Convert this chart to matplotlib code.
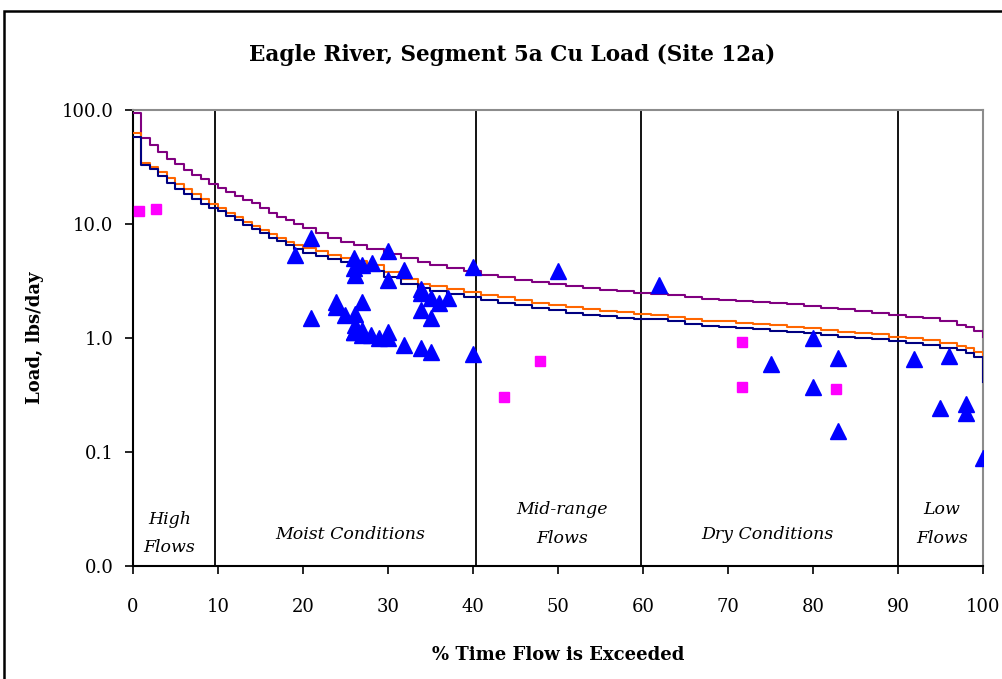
import matplotlib
matplotlib.use("Agg")
import matplotlib.pyplot as plt
from matplotlib.patches import Rectangle

# flow exceedance (%) grid shared by the three load duration curves
FLOW_PCT = [0, 1, 2, 3, 4, 5, 6, 7, 8, 9, 10, 11, 12, 13, 14, 15, 16, 17, 18, 19, 20,
            21.5, 23, 24.5, 26, 27.5, 29.5, 31.5, 33.5, 35, 37, 39, 41, 43, 45, 47, 49,
            51, 53, 55, 57, 59, 61, 63, 65, 67, 69, 71, 73, 75, 77, 79, 81, 83, 85, 87,
            89, 91, 93, 95, 97, 98, 99, 100, 100]

CURVE_PURPLE = [95, 56.4, 49.3, 43.1, 37.2, 33.6, 29.8, 26.9, 24.7, 22.4, 20.6, 19.2, 17.6,
                16.2, 15.2, 13.7, 12.6, 11.6, 10.8, 10.0, 9.3, 8.4, 7.6, 7.0, 6.5, 6.0, 5.5,
                5.0, 4.6, 4.35, 4.1, 3.85, 3.6, 3.4, 3.25, 3.1, 2.95, 2.85, 2.76, 2.66, 2.58,
                2.5, 2.42, 2.4, 2.31, 2.2, 2.14, 2.11, 2.07, 2.02, 1.97, 1.91, 1.85, 1.78,
                1.73, 1.67, 1.6, 1.54, 1.49, 1.41, 1.31, 1.25, 1.16, 1.03, 1.03]

CURVE_ORANGE = [63, 34.5, 31.8, 28.3, 25.2, 22.3, 20.1, 18.2, 16.5, 14.9, 13.7, 12.4, 11.5,
                10.5, 9.6, 8.9, 8.2, 7.6, 7.0, 6.5, 6.15, 5.75, 5.3, 5.0, 4.7, 4.4, 3.8, 3.3,
                3.0, 2.84, 2.67, 2.55, 2.39, 2.28, 2.17, 2.04, 1.96, 1.86, 1.78, 1.73, 1.69,
                1.63, 1.6, 1.54, 1.47, 1.42, 1.40, 1.36, 1.32, 1.29, 1.26, 1.22, 1.18, 1.14,
                1.11, 1.08, 1.03, 1.0, 0.96, 0.9, 0.85, 0.82, 0.76, 0.67, 0.45]

CURVE_NAVY = [57.6, 32.9, 30.2, 26.4, 22.7, 20.2, 18.2, 16.5, 14.9, 13.8, 12.9, 11.7, 10.9,
              9.8, 9.0, 8.3, 7.6, 7.1, 6.5, 6.0, 5.6, 5.25, 4.9, 4.6, 4.25, 3.85, 3.45, 3.0,
              2.72, 2.58, 2.42, 2.29, 2.14, 2.03, 1.93, 1.85, 1.77, 1.66, 1.59, 1.55, 1.51,
              1.48, 1.46, 1.4, 1.33, 1.28, 1.26, 1.23, 1.2, 1.16, 1.14, 1.11, 1.07, 1.03,
              1.01, 0.98, 0.95, 0.91, 0.86, 0.82, 0.78, 0.74, 0.68, 0.6, 0.41]

# observed loads (triangles)
OBS_X = [19.1, 20.9, 20.9, 23.9, 23.9, 24.9, 26.0, 26.0, 26.1, 26.1, 26.1, 26.0, 26.0,
         27.0, 27.0, 27.0, 27.0, 28.1, 28.0, 29.0, 30.0, 30.0, 30.0, 30.0, 31.9, 31.9,
         33.9, 33.9, 33.9, 33.9, 35.1, 35.1, 35.1, 36.0, 37.1, 40.0, 40.0, 50.0, 61.9,
         75.1, 80.0, 80.0, 82.9, 82.9, 91.9, 94.9, 96.0, 98.0, 98.0, 100.0]
OBS_Y = [5.35, 7.6, 1.49, 2.08, 1.88, 1.59, 5.0, 4.08, 3.57, 1.64, 1.30, 1.14, 1.14,
         4.36, 2.08, 1.17, 1.06, 4.52, 1.06, 0.99, 5.75, 3.23, 1.14, 0.99, 3.94, 0.87,
         2.67, 2.47, 1.76, 0.81, 2.23, 1.49, 0.76, 2.04, 2.25, 4.2, 0.73, 3.89, 2.93,
         0.59, 1.01, 0.37, 0.67, 0.153, 0.65, 0.245, 0.695, 0.262, 0.219, 0.088]

# squares
SQ_X = [0.75, 2.7, 43.6, 47.9, 71.7, 71.7, 82.7]
SQ_Y = [13.1, 13.5, 0.305, 0.63, 0.916, 0.37, 0.357]

DIVIDERS = [9.7, 40.4, 59.8, 90.0]
ZONE_X = [4.3, 25.5, 50.5, 74.6, 95.2]
ZONE_Y = [0.0193, 0.0189, 0.0233, 0.0189, 0.0233]
ZONE_LABELS = ["High\nFlows", "Moist Conditions", "Mid-range\nFlows", "Dry Conditions", "Low\nFlows"]

YTICKS = [0.01, 0.1, 1, 10, 100]
YTICK_LABELS = ["0.0", "0.1", "1.0", "10.0", "100.0"]
XTICKS = [0, 10, 20, 30, 40, 50, 60, 70, 80, 90, 100]

SERIF = "DejaVu Serif"


def main():
    fig = plt.figure(figsize=(10.03, 6.79), dpi=100)
    ax = fig.add_axes([133 / 1003, 1 - 566 / 679, 850 / 1003, 456 / 679])

    ax.plot(FLOW_PCT, CURVE_PURPLE, drawstyle="steps-post", color="#800080", lw=1.5, zorder=3)
    ax.plot(FLOW_PCT, CURVE_ORANGE, drawstyle="steps-post", color="#FF6600", lw=1.5, zorder=3)
    ax.plot(FLOW_PCT, CURVE_NAVY, drawstyle="steps-post", color="#000080", lw=1.5, zorder=3)

    for x in DIVIDERS:
        ax.axvline(x, color="black", lw=1.3, zorder=2)

    ax.plot(SQ_X, SQ_Y, ls="none", marker="s", ms=7, color="#FF00FF", zorder=4)
    ax.plot(OBS_X, OBS_Y, ls="none", marker="^", ms=11, color="#0000FF", zorder=5)

    ax.set_yscale("log")
    ax.set_ylim(0.01, 100)
    ax.set_xlim(0, 100)
    ax.set_yticks(YTICKS)
    ax.set_yticklabels(YTICK_LABELS)
    ax.minorticks_off()
    ax.set_xticks(XTICKS)
    ax.tick_params(axis="both", direction="out", length=6, width=1.2, labelsize=13)
    ax.tick_params(axis="y", pad=8)
    ax.tick_params(axis="x", pad=17)
    for lab in ax.get_xticklabels() + ax.get_yticklabels():
        lab.set_fontfamily(SERIF)

    for side in ["left", "bottom"]:
        ax.spines[side].set_color("black")
        ax.spines[side].set_linewidth(1.5)
    for side in ["top", "right"]:
        ax.spines[side].set_color("#8c8c8c")
        ax.spines[side].set_linewidth(1.5)

    for x, y, label in zip(ZONE_X, ZONE_Y, ZONE_LABELS):
        ax.text(x, y, label, ha="center", va="center", style="italic",
                fontsize=12.5, family=SERIF, linespacing=1.9)

    ax.set_xlabel("% Time Flow is Exceeded", fontsize=13, fontweight="bold",
                  family=SERIF, labelpad=22)
    ax.set_ylabel("Load, lbs/day", fontsize=13, fontweight="bold", family=SERIF, labelpad=13)
    fig.text(512 / 1003, 1 - 55 / 679, "Eagle River, Segment 5a Cu Load (Site 12a)",
             ha="center", va="center", fontsize=15.5, fontweight="bold", family=SERIF)

    fig.add_artist(Rectangle((4 / 1003, -0.2), 1.2, 1.2 - 11 / 679, fill=False,
                             edgecolor="black", lw=1.8, transform=fig.transFigure,
                             clip_on=False))

    fig.savefig("out.png", dpi=100)
    plt.close(fig)


if __name__ == "__main__":
    main()
